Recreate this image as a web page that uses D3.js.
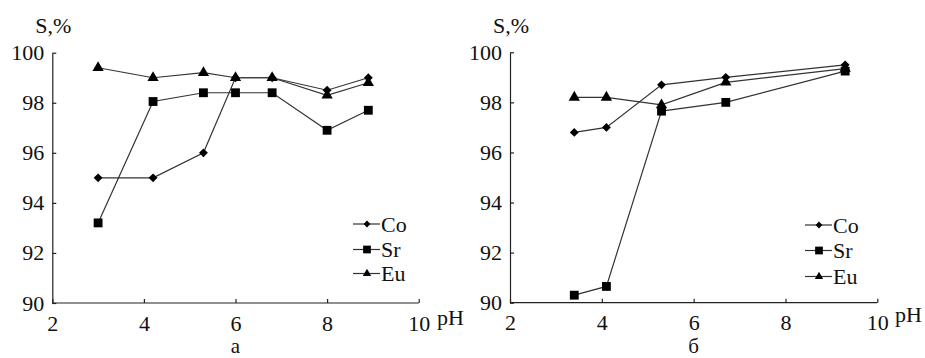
<!DOCTYPE html>
<html lang="en">
<head>
  <meta charset="UTF-8">
  <title>S vs pH</title>
  <script src="https://cdnjs.cloudflare.com/ajax/libs/d3/7.8.5/d3.min.js"></script>
  <style>
    body { margin: 0; background: white; }
    svg { display: block; background: white; }
    text { font-family: "Times New Roman", Times, "Liberation Serif", Tinos, serif; fill: #111; }
  </style>
</head>
<body>
  <script>
    // panel a
    var phA = [3.0, 4.2, 5.3, 6.0, 6.8, 8.0, 8.9];
    var coA = [95.0, 95.0, 96.0, 99.0, 99.0, 98.5, 99.0];
    var srA = [93.2, 98.05, 98.4, 98.4, 98.4, 96.9, 97.7];
    var euA = [99.4, 99.0, 99.2, 99.0, 99.0, 98.3, 98.8];

    // panel б
    var phB = [3.4, 4.1, 5.3, 6.7, 9.3];
    var coB = [96.8, 97.0, 98.7, 99.0, 99.5];
    var srB = [90.3, 90.65, 97.65, 98.0, 99.25];
    var euB = [98.2, 98.2, 97.9, 98.8, 99.35];

    var xTicks = [2, 4, 6, 8, 10];
    var yTicks = [90, 92, 94, 96, 98, 100];
    var seriesNames = ["Co", "Sr", "Eu"];
    var panelLabels = ["а", "б"];

    var w = 925, h = 358;
    var svg = d3.select("body").append("svg")
      .attr("width", w)
      .attr("height", h);

    var symbols = {
      Co: d3.symbol().type(d3.symbolDiamond2).size(50),
      Sr: d3.symbol().type(d3.symbolSquare).size(78),
      Eu: d3.symbol().type(d3.symbolTriangle).size(55)
    };

    var panels = [
      { ph: phA, vals: [coA, srA, euA], x0: 52.3, x1: 418.7, y0: 303, y1: 52.7,
        legX: 353, legY: [224, 249.5, 273.5], lab: panelLabels[0], labY: 353, phX: 437, phY: 325 },
      { ph: phB, vals: [coB, srB, euB], x0: 510, x1: 877.3, y0: 302.7, y1: 52.3,
        legX: 805, legY: [225, 250.5, 276.5], lab: panelLabels[1], labY: 353, phX: 895, phY: 322 }
    ];

    panels.forEach(function(p) {
      var x = d3.scaleLinear().domain([2, 10]).range([p.x0, p.x1]);
      var y = d3.scaleLinear().domain([90, 100]).range([p.y0, p.y1]);
      var g = svg.append("g");

      var yAxis = g.append("g")
        .attr("transform", "translate(" + p.x0 + ",0)")
        .call(d3.axisLeft(y).tickValues(yTicks).tickSize(-4).tickSizeOuter(0).tickPadding(8));
      var xAxis = g.append("g")
        .attr("transform", "translate(0," + p.y0 + ")")
        .call(d3.axisBottom(x).tickValues(xTicks).tickSize(-4).tickSizeOuter(0).tickPadding(12));

      [xAxis, yAxis].forEach(function(a) {
        a.attr("font-family", null).attr("font-size", null);
        a.selectAll("path, line").attr("stroke", "#222").attr("stroke-width", 1.2);
        a.selectAll("text").style("font-size", "22px").attr("fill", "#111");
      });
      xAxis.select(".domain").attr("d", "M" + p.x0 + ",0H" + p.x1);

      g.append("text")
        .attr("x", p.x0 - 17).attr("y", 33)
        .style("font-size", "22px")
        .text("S,%");

      g.append("text")
        .attr("x", p.phX).attr("y", p.phY)
        .style("font-size", "22px")
        .text("pH");

      g.append("text")
        .attr("x", (p.x0 + p.x1) / 2).attr("y", p.labY)
        .attr("text-anchor", "middle")
        .style("font-size", "21px")
        .text(p.lab);

      var line = d3.line()
        .x(function(d) { return x(d[0]); })
        .y(function(d) { return y(d[1]); });

      seriesNames.forEach(function(name, si) {
        var pts = p.ph.map(function(v, i) { return [v, p.vals[si][i]]; });
        g.append("path")
          .datum(pts)
          .attr("d", line)
          .attr("fill", "none")
          .attr("stroke", "#333")
          .attr("stroke-width", 1.2);
        g.selectAll(".m" + name)
          .data(pts)
          .enter()
          .append("path")
          .attr("transform", function(d) { return "translate(" + x(d[0]) + "," + y(d[1]) + ")"; })
          .attr("d", symbols[name])
          .attr("fill", "#000");

        // legend
        var ly = p.legY[si];
        g.append("line")
          .attr("x1", p.legX).attr("x2", p.legX + 27)
          .attr("y1", ly).attr("y2", ly)
          .attr("stroke", "#333").attr("stroke-width", 1.2);
        g.append("path")
          .attr("transform", "translate(" + (p.legX + 14) + "," + ly + ")")
          .attr("d", d3.symbol().type(symbols[name].type()).size(name === "Sr" ? 60 : 30))
          .attr("fill", "#000");
        g.append("text")
          .attr("x", p.legX + 28).attr("y", ly + 7.5)
          .style("font-size", "22px")
          .text(name);
      });
    });
  </script>
</body>
</html>
